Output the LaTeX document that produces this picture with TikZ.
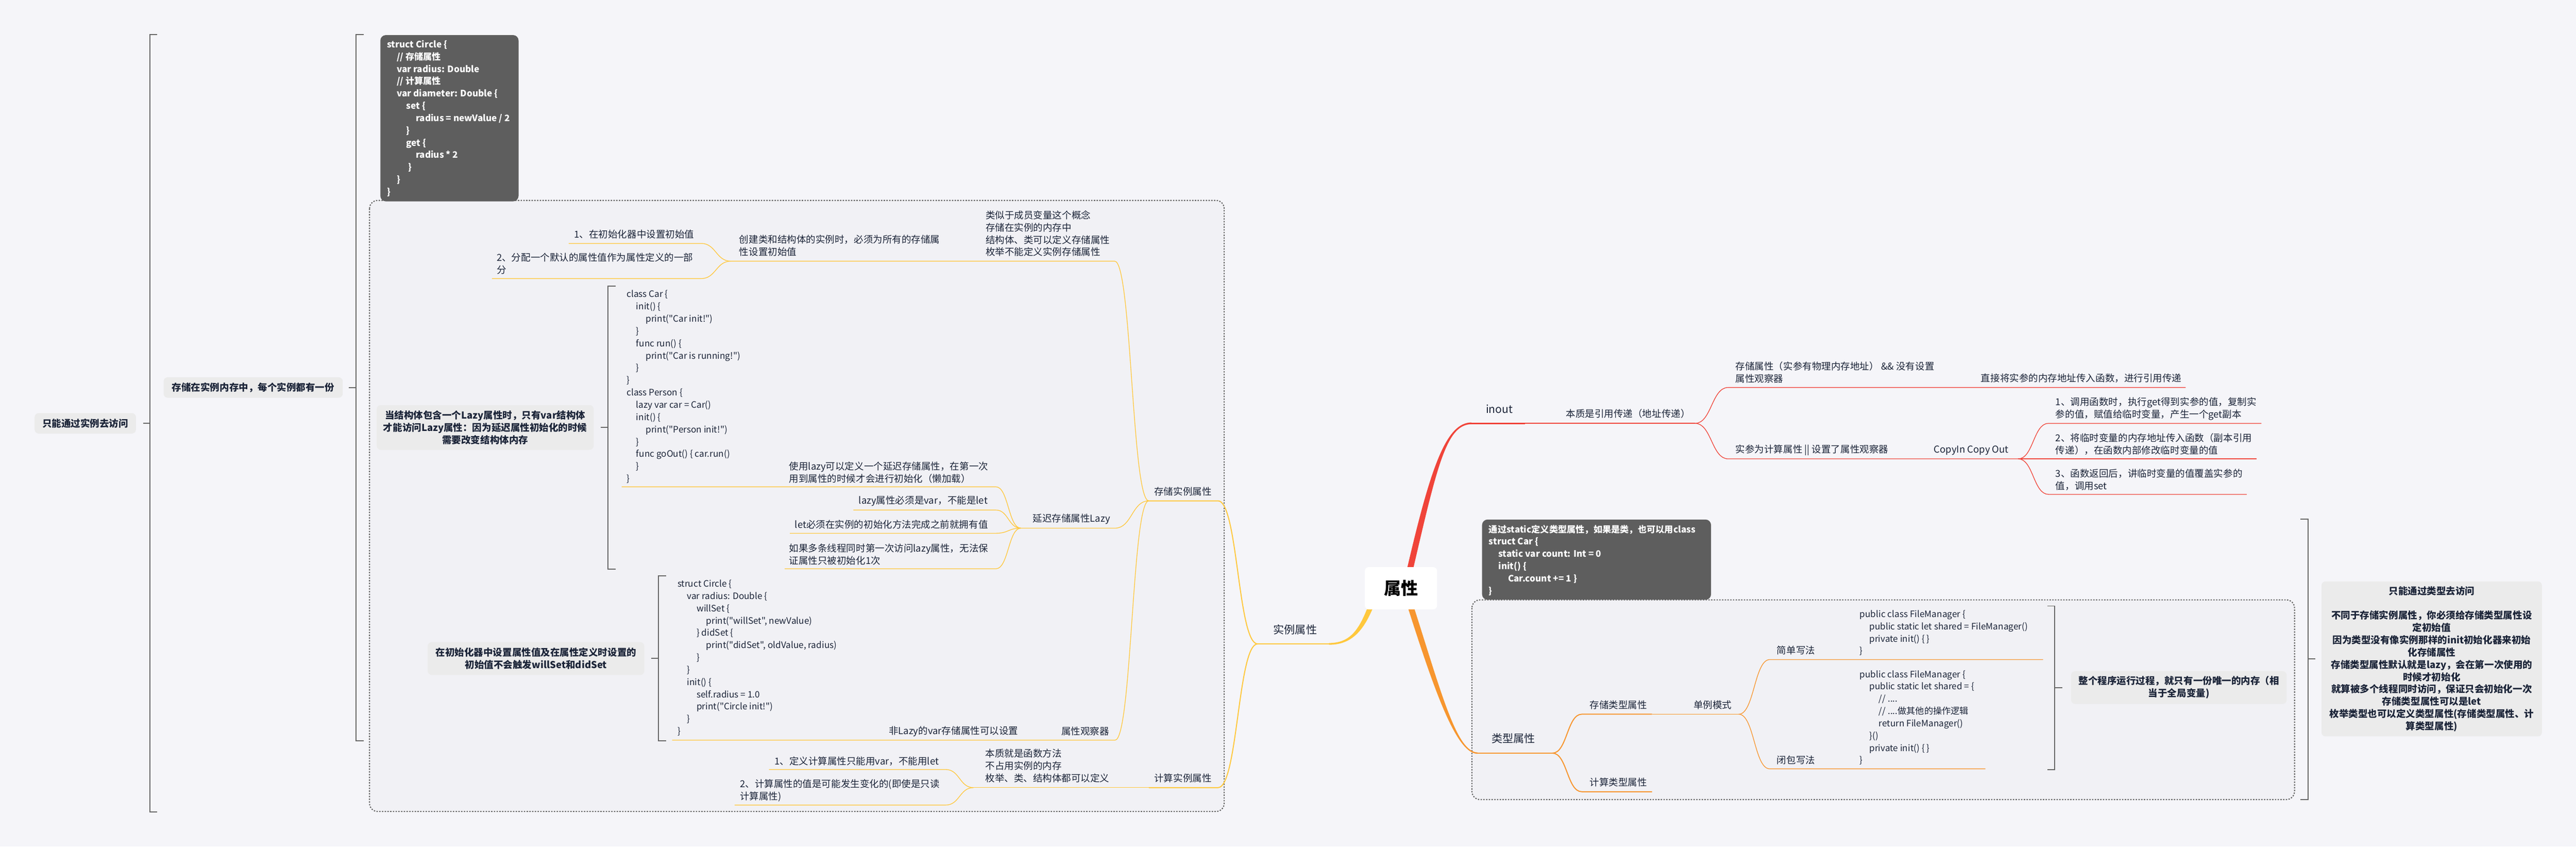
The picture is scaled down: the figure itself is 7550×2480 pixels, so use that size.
\documentclass[tikz,border=0pt]{standalone}
\usepackage{fontspec}
\setmainfont{Noto Sans CJK SC}[Ligatures=TeXOff]
\usetikzlibrary{calc}

\definecolor{bgcol}{HTML}{F5F5F9}
\definecolor{grpfill}{HTML}{F1F1F5}
\definecolor{codebg}{HTML}{5E5E5E}
\definecolor{sumfill}{HTML}{EBEBEB}
\definecolor{brkcol}{HTML}{666666}
\definecolor{ink}{HTML}{1B2438}
\definecolor{mmyellow}{HTML}{FFC83D}
\definecolor{mmred}{HTML}{F0443A}
\definecolor{mmorange}{HTML}{F7962F}

\newcommand\cind{\hspace*{7pt}}

\tikzset{
  txt/.style={inner sep=0pt,align=left,text=ink,font=\fontsize{7pt}{9pt}\selectfont},
  code/.style={txt,font=\fontsize{6.5pt}{9pt}\selectfont},
  codew/.style={inner sep=0pt,align=left,text=white,font=\bfseries\fontsize{6.5pt}{9pt}\selectfont},
  lvlone/.style={inner sep=0pt,text=ink,font=\fontsize{8pt}{10pt}\selectfont},
  sumbox/.style={fill=sumfill,rounded corners=3pt,inner sep=0pt,align=center,text=ink,font=\bfseries\fontsize{7pt}{9pt}\selectfont},
  darkbox/.style={fill=codebg,rounded corners=4pt,inner sep=0pt},
  rootbox/.style={fill=white,rounded corners=3pt,inner sep=0pt,text=black,font=\bfseries\fontsize{12.5pt}{14pt}\selectfont},
  group/.style={draw=brkcol,fill=grpfill,line width=0.8pt,dash pattern=on 1pt off 1pt,rounded corners=6pt},
  brk/.style={draw=brkcol,line width=0.75pt},
  thickbr/.style={line width=1pt},
  midbr/.style={line width=0.75pt},
  thinbr/.style={line width=0.5pt},
  xcurve/.style={to path={let \p1=(\tikztostart),\p2=(\tikztotarget) in
    .. controls ({0.5*\x1+0.5*\x2},\y1) and ({0.5*\x1+0.5*\x2},\y2) .. (\tikztotarget)}}
}

\begin{document}
\begin{tikzpicture}[x=0.25pt,y=-0.25pt]
\fill[bgcol] (0,0) rectangle (7550,2480);
\useasboundingbox (0,0) rectangle (7550,2480);

\draw[group] (1083,587) rectangle (3588,2377);
\draw[group] (4314,1757) rectangle (6725,2342);

\node[darkbox,anchor=north west,minimum width=101.25pt,minimum height=121.75pt] (circlebox) at (1114,102) {};
\node[codew,anchor=west] (circletext) at (1134,347) {struct Circle \{\\
\cind // 存储属性\\
\cind var radius: Double\\
\cind // 计算属性\\
\cind var diameter: Double \{\\
\cind\cind set \{\\
\cind\cind\cind radius = newValue / 2\\
\cind\cind \}\\
\cind\cind get \{\\
\cind\cind\cind radius * 2\\
\cind\cind\hspace*{1.5pt}\}\\
\cind \}\\
\}};
\node[darkbox,anchor=north west,minimum width=167.75pt,minimum height=58.75pt] (staticbox) at (4343,1521) {};
\node[codew,anchor=west] (statictext) at (4363,1641) {通过static定义类型属性，如果是类，也可以用class\\
struct Car \{\\
\cind static var count: Int = 0\\
\cind init() \{\\
\cind\cind Car.count += 1 \}\\
\}};

\node[sumbox,minimum width=74.25pt,minimum height=15pt] (viainst) at (250,1240) {只能通过实例去访问};
\node[sumbox,minimum width=131.25pt,minimum height=15pt] (permem) at (742,1135) {存储在实例内存中，每个实例都有一份};
\node[sumbox,minimum width=159pt,minimum height=32.75pt] (lazynote) at (1422,1252) {当结构体包含一个Lazy属性时，只有var结构体\\才能访问Lazy属性：因为延迟属性初始化的时候\\需要改变结构体内存};
\node[sumbox,minimum width=158.75pt,minimum height=24pt] (obsnote) at (1571,1929) {在初始化器中设置属性值及在属性定义时设置的\\初始值不会触发willSet和didSet};
\node[sumbox,minimum width=158pt,minimum height=24pt] (oncenote) at (6386,2014) {整个程序运行过程，就只有一份唯一的内存（相\\当于全局变量)};
\node[sumbox,minimum width=161.5pt,minimum height=113.5pt] (viatype) at (7127,1930) {只能通过类型去访问\\[9pt]
不同于存储实例属性，你必须给存储类型属性设\\定初始值\\
因为类型没有像实例那样的init初始化器来初始\\化存储属性\\
存储类型属性默认就是lazy，会在第一次使用的\\时候才初始化\\
就算被多个线程同时访问，保证只会初始化一次\\
存储类型属性可以是let\\
枚举类型也可以定义类型属性(存储类型属性、计\\算类型属性)};

\draw[brk] (461,101) -- (439,101) -- (439,2378) -- (461,2378);
\draw[brk] ([xshift=5pt]viainst.east) -- (439,1240);
\draw[brk] (1066,101) -- (1043,101) -- (1043,2170) -- (1066,2170);
\draw[brk] ([xshift=4.25pt]permem.east) -- (1043,1135);
\draw[brk] (1804,838) -- (1782,838) -- (1782,1667) -- (1804,1667);
\draw[brk] ([xshift=5pt]lazynote.east) -- (1782,1252);
\draw[brk] (1952,1687) -- (1930,1687) -- (1930,2170) -- (1952,2170);
\draw[brk] ([xshift=5pt]obsnote.east) -- (1930,1929);
\draw[brk] (6000,1775) -- (6022,1775) -- (6022,2254) -- (6000,2254);
\draw[brk] (6022,2014) -- ([xshift=-6pt]oncenote.west);
\draw[brk] (6742,1520) -- (6764,1520) -- (6764,2342) -- (6742,2342);
\draw[brk] (6764,1930) -- ([xshift=-4.5pt]viatype.west);

\fill[mmyellow] (4006,1785) .. controls (3979,1852) and (3952,1883.5) .. (3895,1883.5) -- (3895,1888.5) .. controls (3958,1888.5) and (3993,1852) .. (4022,1785) -- cycle;
\fill[mmred] (4125,1661) .. controls (4195,1361) and (4240,1237.5) .. (4313,1237.5) -- (4313,1242.5) .. controls (4240,1242.5) and (4213,1361) .. (4143,1661) -- cycle;
\fill[mmorange] (4128,1785) .. controls (4208,2035) and (4270,2208) .. (4331,2208) -- (4331,2204) .. controls (4270,2204) and (4226,2035) .. (4146,1785) -- cycle;

\coordinate (inst-r) at (3895,1886);
\coordinate (inst-l) at (3686,1886);
\coordinate (store-r) at (3570,1467);
\coordinate (store-l) at (3367,1467);
\coordinate (comp-r) at (3570,2307);
\coordinate (comp-l) at (3367,2307);
\coordinate (memb-r) at (3267,765);
\coordinate (memb-l) at (2866,765);
\coordinate (init-l) at (2142,765);
\coordinate (init1-r) at (2055,713);
\coordinate (init1-l) at (1667,713);
\coordinate (init2-r) at (2055,816);
\coordinate (init2-l) at (1442,816);
\coordinate (lazy-r) at (3268,1547);
\coordinate (lazy-l) at (2992,1547);
\coordinate (lz1-r) at (2919,1426);
\coordinate (lz1-l) at (1822,1426);
\coordinate (lz2-r) at (2919,1494);
\coordinate (lz2-l) at (2501,1494);
\coordinate (lz3-r) at (2919,1562);
\coordinate (lz3-l) at (2315,1562);
\coordinate (lz4-r) at (2919,1666);
\coordinate (lz4-l) at (2300,1666);
\coordinate (obs-r) at (3268,2168);
\coordinate (obs-l) at (3090,2168);
\coordinate (nonlazy-l) at (1970,2168);
\coordinate (func-l) at (2853,2307);
\coordinate (cf1-r) at (2772,2254);
\coordinate (cf1-l) at (2254,2254);
\coordinate (cf2-r) at (2772,2358);
\coordinate (cf2-l) at (2153,2358);

\coordinate (inout-l) at (4313,1240);
\coordinate (inout-r) at (4470,1240);
\coordinate (ref-r) at (4968,1240);
\coordinate (addr-l) at (5065,1135);
\coordinate (addr-r) at (6406,1135);
\coordinate (cio-l) at (5065,1344);
\coordinate (cio-r) at (5915,1344);
\coordinate (ci1-l) at (6004,1240);
\coordinate (ci1-r) at (6628,1240);
\coordinate (ci2-l) at (6004,1344);
\coordinate (ci2-r) at (6614,1344);
\coordinate (ci3-l) at (6004,1448);
\coordinate (ci3-r) at (6585,1448);
\coordinate (type-l) at (4331,2206);
\coordinate (type-r) at (4550,2206);
\coordinate (stype-l) at (4636,2092);
\coordinate (stype-r) at (4842,2092);
\coordinate (single-r) at (5096,2092);
\coordinate (simple-l) at (5187,1932);
\coordinate (simple-r) at (5988,1932);
\coordinate (closure-l) at (5187,2252);
\coordinate (closure-r) at (5819,2252);
\coordinate (ctype-l) at (4636,2319);
\coordinate (ctype-r) at (4842,2319);

\draw[mmyellow,thickbr] (inst-r) -- (inst-l);
\draw[mmyellow,midbr] (inst-l) to[xcurve] (store-r) -- (store-l);
\draw[mmyellow,midbr] (inst-l) to[xcurve] (comp-r) -- (comp-l);
\draw[mmyellow,thinbr] (store-l) to[xcurve] (memb-r) -- (memb-l) -- (init-l);
\draw[mmyellow,thinbr] (init-l) to[xcurve] (init1-r) -- (init1-l);
\draw[mmyellow,thinbr] (init-l) to[xcurve] (init2-r) -- (init2-l);
\draw[mmyellow,thinbr] (store-l) to[xcurve] (lazy-r) -- (lazy-l);
\foreach \k in {lz1,lz2,lz3,lz4}
  \draw[mmyellow,thinbr] (lazy-l) to[xcurve] (\k-r) -- (\k-l);
\draw[mmyellow,thinbr] (store-l) to[xcurve] (obs-r) -- (obs-l) -- (nonlazy-l);
\draw[mmyellow,thinbr] (comp-l) -- (func-l);
\draw[mmyellow,thinbr] (func-l) to[xcurve] (cf1-r) -- (cf1-l);
\draw[mmyellow,thinbr] (func-l) to[xcurve] (cf2-r) -- (cf2-l);

\draw[mmred,thickbr] (inout-l) -- (inout-r);
\draw[mmred,midbr] (inout-r) -- (ref-r);
\draw[mmred,thinbr] (ref-r) to[xcurve] (addr-l) -- (addr-r);
\draw[mmred,thinbr] (ref-r) to[xcurve] (cio-l) -- (cio-r);
\foreach \k in {ci1,ci2,ci3}
  \draw[mmred,thinbr] (cio-r) to[xcurve] (\k-l) -- (\k-r);

\draw[mmorange,thickbr] (type-l) -- (type-r);
\draw[mmorange,midbr] (type-r) to[xcurve] (stype-l) -- (stype-r);
\draw[mmorange,thinbr] (stype-r) -- (single-r);
\draw[mmorange,thinbr] (single-r) to[xcurve] (simple-l) -- (simple-r);
\draw[mmorange,thinbr] (single-r) to[xcurve] (closure-l) -- (closure-r);
\draw[mmorange,midbr] (type-r) to[xcurve] (ctype-l) -- (ctype-r);

\node[lvlone] (inst) at (3796,1844) {实例属性};
\node[txt] (store) at (3467,1439) {存储实例属性};
\node[txt] (comp) at (3467,2279) {计算实例属性};
\node[txt,anchor=west] (memb) at (2888,684) {类似于成员变量这个概念\\存储在实例的内存中\\结构体、类可以定义存储属性\\枚举不能定义实例存储属性};
\node[txt,anchor=west] (init) at (2166,720) {创建类和结构体的实例时，必须为所有的存储属\\性设置初始值};
\node[txt,anchor=west] (init1) at (1682,687) {1、在初始化器中设置初始值};
\node[txt,anchor=west] (init2) at (1455,772) {2、分配一个默认的属性值作为属性定义的一部\\分};
\node[txt,anchor=west] (lazy) at (3026,1521) {延迟存储属性Lazy};
\node[txt,anchor=west] (lz1) at (2312,1384) {使用lazy可以定义一个延迟存储属性，在第一次\\用到属性的时候才会进行初始化（懒加载）};
\node[code,anchor=west] (carcode) at (1836,1133) {class Car \{\\
\cind init() \{\\
\cind\cind print("Car init!")\\
\cind \}\\
\cind func run() \{\\
\cind\cind print("Car is running!")\\
\cind \}\\
\}\\
class Person \{\\
\cind lazy var car = Car()\\
\cind init() \{\\
\cind\cind print("Person init!")\\
\cind \}\\
\cind func goOut() \{ car.run()\\
\cind \}\\
\}};
\node[txt,anchor=west] (lz2) at (2516,1468) {lazy属性必须是var，不能是let};
\node[txt,anchor=west] (lz3) at (2329,1537) {let必须在实例的初始化方法完成之前就拥有值};
\node[txt,anchor=west] (lz4) at (2312,1624) {如果多条线程同时第一次访问lazy属性，无法保\\证属性只被初始化1次};
\node[txt,anchor=west] (obs) at (3110,2142) {属性观察器};
\node[txt,anchor=west] (nonlazy) at (2604,2142) {非Lazy的var存储属性可以设置};
\node[code,anchor=west] (circlecode) at (1985,1927) {struct Circle \{\\
\cind var radius: Double \{\\
\cind\cind willSet \{\\
\cind\cind\cind print("willSet", newValue)\\
\cind\cind \} didSet \{\\
\cind\cind\cind print("didSet", oldValue, radius)\\
\cind\cind \}\\
\cind \}\\
\cind init() \{\\
\cind\cind self.radius = 1.0\\
\cind\cind print("Circle init!")\\
\cind \}\\
\}};
\node[txt,anchor=west] (func) at (2887,2243) {本质就是函数方法\\不占用实例的内存\\枚举、类、结构体都可以定义};
\node[txt,anchor=west] (cf1) at (2269,2229) {1、定义计算属性只能用var，不能用let};
\node[txt,anchor=west] (cf2) at (2168,2315) {2、计算属性的值是可能发生变化的(即使是只读\\计算属性)};

\node[lvlone,anchor=west] (inout) at (4354,1198) {inout};
\node[txt,anchor=west] (ref) at (4589,1212) {本质是引用传递（地址传递）};
\node[txt,anchor=west] (addr) at (5086,1091) {存储属性（实参有物理内存地址） \&\& 没有设置\\属性观察器};
\node[txt,anchor=west] (direct) at (5805,1108) {直接将实参的内存地址传入函数，进行引用传递};
\node[txt,anchor=west] (cio) at (5086,1319) {实参为计算属性 || 设置了属性观察器};
\node[txt,anchor=west] (copyio) at (5667,1319) {CopyIn Copy Out};
\node[txt,anchor=west] (ci1) at (6024,1197) {1、调用函数时，执行get得到实参的值，复制实\\参的值，赋值给临时变量，产生一个get副本};
\node[txt,anchor=west] (ci2) at (6024,1301) {2、将临时变量的内存地址传入函数（副本引用\\传递），在函数内部修改临时变量的值};
\node[txt,anchor=west] (ci3) at (6024,1405) {3、函数返回后，讲临时变量的值覆盖实参的\\值，调用set};
\node[lvlone] (type) at (4436,2163) {类型属性};
\node[txt] (stype) at (4743,2065) {存储类型属性};
\node[txt,anchor=west] (single) at (4963,2065) {单例模式};
\node[txt,anchor=west] (simple) at (5207,1905) {简单写法};
\node[code,anchor=west] (simplecode) at (5450,1854) {public class FileManager \{\\
\cind public static let shared = FileManager()\\
\cind private init() \{ \}\\
\}};
\node[txt,anchor=west] (closure) at (5207,2227) {闭包写法};
\node[code,anchor=west] (closurecode) at (5450,2102) {public class FileManager \{\\
\cind public static let shared = \{\\
\cind\cind // ....\\
\cind\cind // ....做其他的操作逻辑\\
\cind\cind return FileManager()\\
\cind \}()\\
\cind private init() \{ \}\\
\}};
\node[txt] (ctype) at (4743,2291) {计算类型属性};

\node[rootbox,minimum width=53pt,minimum height=31pt] (root) at (4106,1723) {属性};
\end{tikzpicture}
\end{document}
